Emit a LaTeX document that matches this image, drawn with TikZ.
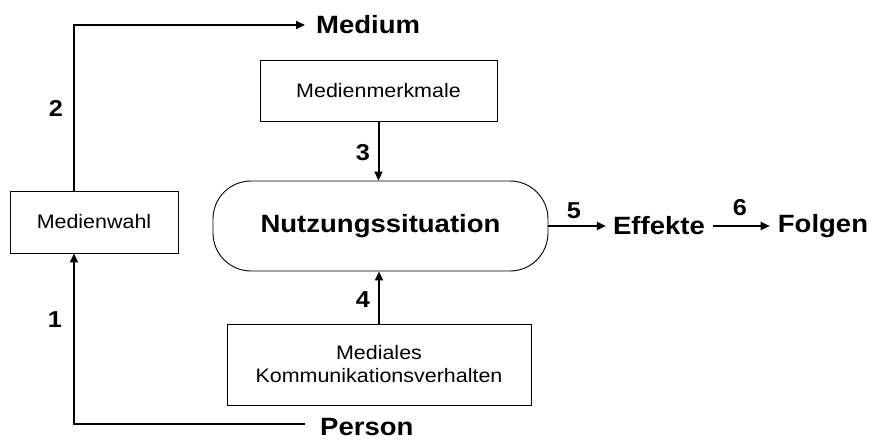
\documentclass[tikz,border=0pt]{standalone}
\usepackage{fontspec}
\setmainfont[FakeStretch=1.1]{Liberation Sans}
\usetikzlibrary{arrows.meta}
\begin{document}
\begin{tikzpicture}[x=1pt,y=-1pt,
  box/.style={draw, line width=0.9pt, font=\fontsize{19.5}{23}\selectfont, align=center, inner sep=0pt},
  term/.style={font=\bfseries\fontsize{25}{30}\selectfont, inner sep=0pt},
  num/.style={font=\bfseries\fontsize{23}{27}\selectfont, inner sep=0pt},
  conn/.style={line width=2pt, -{Triangle[length=9pt,width=8pt]}}]
  \useasboundingbox (0,0) rectangle (871,441);

  % boxes
  \node[box, minimum width=168pt, minimum height=62pt] (wahl) at (94,222) {Medienwahl};
  \node[box, minimum width=237pt, minimum height=61pt] (merk) at (378.5,90.5) {Medienmerkmale};
  \node[box, rounded corners=38pt, minimum width=335pt, minimum height=90pt,
        font=\bfseries\fontsize{25}{30}\selectfont] (nutz) at (380.5,226) {Nutzungssituation};
  \node[box, minimum width=304pt, minimum height=81pt] (medial) at (379,364.5)
        {Mediales\\Kommunikationsverhalten};

  % outcome terms
  \node[term, anchor=west] (medium) at (316,25) {Medium};
  \node[term, anchor=west] (person) at (320,427.5) {Person};
  \node[term] (effekte) at (659,226) {Effekte};
  \node[term] (folgen) at (823,226) {Folgen};

  % corner points of the selection paths
  \coordinate (turn2) at (74,25);
  \coordinate (turn1) at (74,424);
  \coordinate (pstart) at (305,424);

  % connectors
  \draw[conn] (wahl.north -| turn2) -- (turn2) -- ([xshift=-11pt]medium.west);
  \draw[conn] (pstart) -- (turn1) -- (wahl.south -| turn1);
  \draw[conn] (merk.south) -- (merk.south |- nutz.north);
  \draw[conn] (medial.north) -- (medial.north |- nutz.south);
  \draw[conn] (nutz.east) -- ([xshift=-7pt]effekte.west);
  \draw[conn] ([xshift=8pt]effekte.east) -- ([xshift=-8pt]folgen.west);

  % step numbers
  \node[num] (n1) at (55,320) {1};
  \node[num] (n2) at (56,108) {2};
  \node[num] (n3) at (363,153) {3};
  \node[num] (n4) at (363,300) {4};
  \node[num] (n5) at (574,211) {5};
  \node[num] (n6) at (740,208) {6};
\end{tikzpicture}
\end{document}
